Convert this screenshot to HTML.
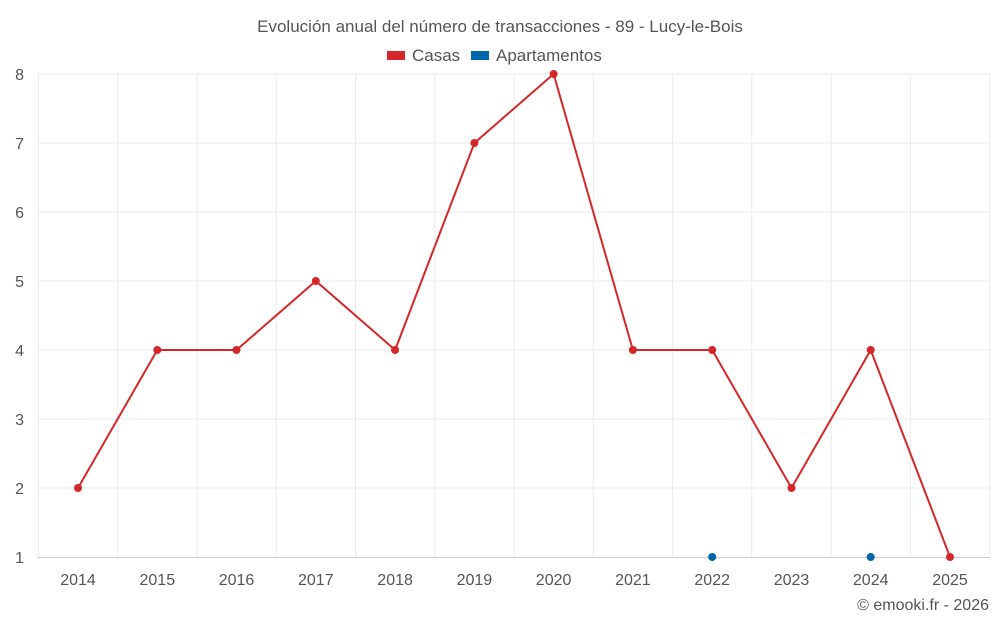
<!DOCTYPE html>
<html><head><meta charset="utf-8"><style>
body{margin:0;background:#fff;font-family:"Liberation Sans",Roboto,sans-serif}
svg text{font-family:"Liberation Sans",sans-serif;fill:#555}
</style></head><body>
<svg width="1000" height="625" xmlns="http://www.w3.org/2000/svg">
<text x="500" y="32" font-size="17" text-anchor="middle">Evolución anual del número de transacciones - 89 - Lucy-le-Bois</text>
<rect x="387" y="51" width="18" height="9" fill="#d62728"/>
<text x="412" y="61" font-size="17">Casas</text>
<rect x="471" y="51" width="18" height="9" fill="#0066aa"/>
<text x="496" y="61" font-size="17">Apartamentos</text>
<g stroke="#ebebeb" stroke-width="1">
<line x1="38" y1="74" x2="990" y2="74"/><line x1="38" y1="143" x2="990" y2="143"/>
<line x1="38" y1="212" x2="990" y2="212"/><line x1="38" y1="281" x2="990" y2="281"/>
<line x1="38" y1="350" x2="990" y2="350"/><line x1="38" y1="419" x2="990" y2="419"/>
<line x1="38" y1="488" x2="990" y2="488"/>
<line x1="38.4" y1="74" x2="38.4" y2="557"/><line x1="117.7" y1="74" x2="117.7" y2="557"/>
<line x1="197" y1="74" x2="197" y2="557"/><line x1="276.2" y1="74" x2="276.2" y2="557"/>
<line x1="355.5" y1="74" x2="355.5" y2="557"/><line x1="434.8" y1="74" x2="434.8" y2="557"/>
<line x1="514" y1="74" x2="514" y2="557"/><line x1="593.3" y1="74" x2="593.3" y2="557"/>
<line x1="672.6" y1="74" x2="672.6" y2="557"/><line x1="751.8" y1="74" x2="751.8" y2="557"/>
<line x1="831.1" y1="74" x2="831.1" y2="557"/><line x1="910.4" y1="74" x2="910.4" y2="557"/>
<line x1="989.6" y1="74" x2="989.6" y2="557"/>
</g>
<line x1="38" y1="557.5" x2="990" y2="557.5" stroke="#ccc"/>
<g font-size="16" text-anchor="end">
<text x="24" y="80">8</text><text x="24" y="149">7</text><text x="24" y="218">6</text>
<text x="24" y="287">5</text><text x="24" y="356">4</text><text x="24" y="425">3</text>
<text x="24" y="494">2</text><text x="24" y="563">1</text>
</g>
<g font-size="16" text-anchor="middle">
<text x="78" y="585">2014</text><text x="157.3" y="585">2015</text><text x="236.5" y="585">2016</text>
<text x="315.8" y="585">2017</text><text x="395.1" y="585">2018</text><text x="474.4" y="585">2019</text>
<text x="553.6" y="585">2020</text><text x="632.9" y="585">2021</text><text x="712.2" y="585">2022</text>
<text x="791.5" y="585">2023</text><text x="870.7" y="585">2024</text><text x="950" y="585">2025</text>
</g>
<polyline fill="none" stroke="#d62728" stroke-width="2" points="78,488 157.3,350 236.5,350 315.8,281 395.1,350 474.4,143 553.6,74 632.9,350 712.2,350 791.5,488 870.7,350 950,557"/>
<g fill="#d62728">
<circle cx="78" cy="488" r="4"/><circle cx="157.3" cy="350" r="4"/><circle cx="236.5" cy="350" r="4"/>
<circle cx="315.8" cy="281" r="4"/><circle cx="395.1" cy="350" r="4"/><circle cx="474.4" cy="143" r="4"/>
<circle cx="553.6" cy="74" r="4"/><circle cx="632.9" cy="350" r="4"/><circle cx="712.2" cy="350" r="4"/>
<circle cx="791.5" cy="488" r="4"/><circle cx="870.7" cy="350" r="4"/><circle cx="950" cy="557" r="4"/>
</g>
<g fill="#0066aa"><circle cx="712.2" cy="557" r="4"/><circle cx="870.7" cy="557" r="4"/></g>
<text x="989" y="610" font-size="16" text-anchor="end">© emooki.fr - 2026</text>
</svg>
</body></html>
